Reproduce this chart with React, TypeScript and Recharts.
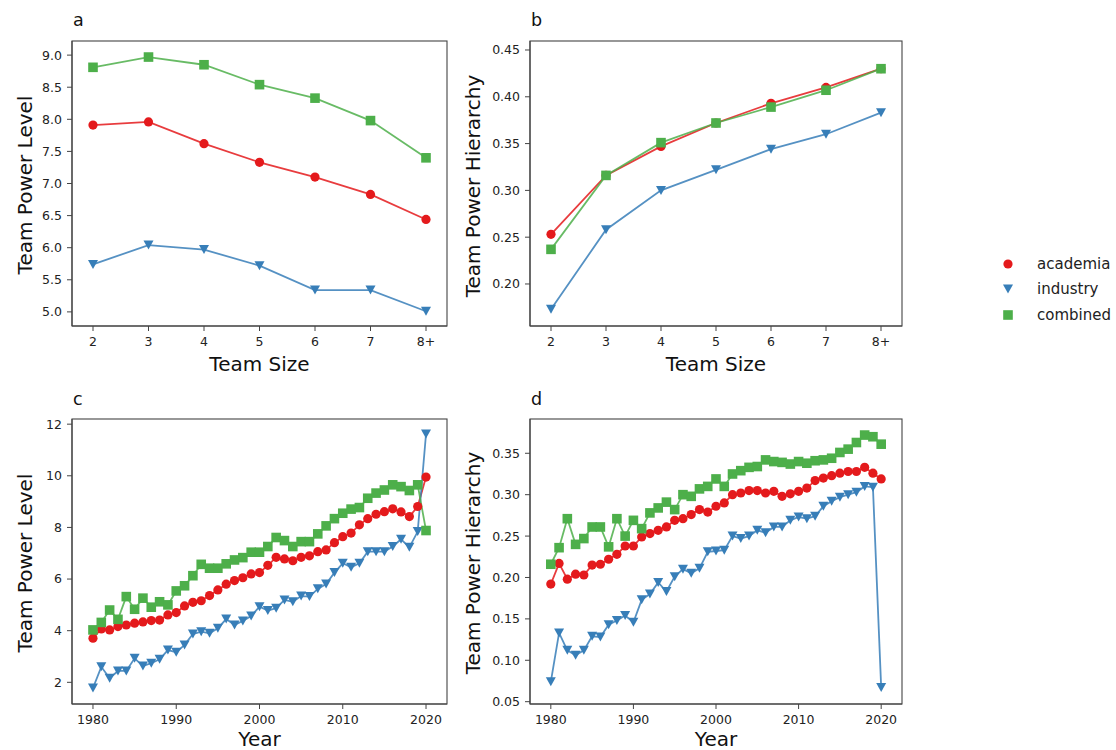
import { LineChart, Line, XAxis, YAxis } from 'recharts'

const RED = '#e41a1c'
const BLUE = '#377eb8'
const GREEN = '#4daf4a'
const FONT = '"DejaVu Sans", Verdana, sans-serif'
const SPINE = '#444'

// team size panels (a, b)
const sizeLabels = ['2', '3', '4', '5', '6', '7', '8+']
const levelAcademia = [7.91, 7.96, 7.62, 7.33, 7.1, 6.83, 6.44]
const levelIndustry = [5.74, 6.04, 5.97, 5.72, 5.34, 5.34, 5.01]
const levelCombined = [8.81, 8.97, 8.85, 8.54, 8.33, 7.98, 7.4]
const hierAcademia = [0.253, 0.316, 0.347, 0.372, 0.393, 0.41, 0.43]
const hierIndustry = [0.173, 0.258, 0.3, 0.322, 0.344, 0.36, 0.383]
const hierCombined = [0.237, 0.316, 0.351, 0.372, 0.389, 0.407, 0.43]

// year panels (c, d)
const years = [
  1980, 1981, 1982, 1983, 1984, 1985, 1986, 1987, 1988, 1989,
  1990, 1991, 1992, 1993, 1994, 1995, 1996, 1997, 1998, 1999,
  2000, 2001, 2002, 2003, 2004, 2005, 2006, 2007, 2008, 2009,
  2010, 2011, 2012, 2013, 2014, 2015, 2016, 2017, 2018, 2019, 2020,
]
const yearLevelAcademia = [
  3.71, 4.07, 4.03, 4.16, 4.22, 4.29, 4.34, 4.39, 4.41, 4.61,
  4.7, 4.96, 5.1, 5.16, 5.36, 5.58, 5.8, 5.94, 6.05, 6.2,
  6.25, 6.53, 6.84, 6.78, 6.71, 6.84, 6.9, 7.06, 7.13, 7.41,
  7.64, 7.78, 8.1, 8.34, 8.51, 8.61, 8.72, 8.6, 8.42, 8.81, 9.95,
]
const yearLevelIndustry = [
  1.78, 2.6, 2.16, 2.44, 2.44, 2.93, 2.63, 2.74, 2.89, 3.25,
  3.16, 3.45, 3.87, 3.96, 3.9, 4.09, 4.45, 4.22, 4.38, 4.57,
  4.93, 4.78, 4.87, 5.19, 5.12, 5.34, 5.32, 5.62, 5.81, 6.25,
  6.61, 6.46, 6.61, 7.06, 7.06, 7.06, 7.26, 7.54, 7.23, 7.84, 11.62,
]
const yearLevelCombined = [
  4.03, 4.32, 4.8, 4.44, 5.32, 4.83, 5.26, 4.91, 5.12, 5.0,
  5.54, 5.74, 6.13, 6.57, 6.42, 6.42, 6.59, 6.74, 6.83, 7.04,
  7.04, 7.26, 7.61, 7.49, 7.26, 7.45, 7.45, 7.75, 8.06, 8.34,
  8.55, 8.71, 8.77, 9.13, 9.33, 9.45, 9.65, 9.58, 9.43, 9.65, 7.88,
]
const yearHierAcademia = [
  0.192, 0.217, 0.198, 0.204, 0.203, 0.215, 0.216, 0.222, 0.228, 0.238,
  0.238, 0.249, 0.253, 0.257, 0.261, 0.269, 0.271, 0.276, 0.282, 0.279,
  0.286, 0.29, 0.3, 0.302, 0.305, 0.305, 0.302, 0.304, 0.298, 0.301,
  0.304, 0.308, 0.317, 0.32, 0.323, 0.326, 0.328, 0.328, 0.333, 0.326, 0.319,
]
const yearHierIndustry = [
  0.074, 0.133, 0.112, 0.106, 0.112, 0.129, 0.128, 0.143, 0.148, 0.154,
  0.146, 0.173, 0.18, 0.194, 0.183, 0.201, 0.21, 0.205, 0.211, 0.231,
  0.232, 0.233, 0.25, 0.247, 0.25, 0.257, 0.254, 0.261, 0.261, 0.269,
  0.273, 0.271, 0.274, 0.286, 0.292, 0.297, 0.3, 0.303, 0.31, 0.309, 0.067,
]
const yearHierCombined = [
  0.216, 0.236, 0.271, 0.24, 0.247, 0.261, 0.261, 0.237, 0.271, 0.25,
  0.269, 0.259, 0.278, 0.284, 0.291, 0.282, 0.3, 0.298, 0.307, 0.31,
  0.319, 0.31, 0.325, 0.329, 0.333, 0.334, 0.342, 0.34, 0.339, 0.337,
  0.34, 0.338, 0.341, 0.342, 0.344, 0.351, 0.355, 0.363, 0.372, 0.37, 0.361,
]

const levelTicks = [5.0, 5.5, 6.0, 6.5, 7.0, 7.5, 8.0, 8.5, 9.0]
const hierTicks = [0.2, 0.25, 0.3, 0.35, 0.4, 0.45]
const yearLevelTicks = [2, 4, 6, 8, 10, 12]
const yearHierTicks = [0.05, 0.1, 0.15, 0.2, 0.25, 0.3, 0.35]
const yearTicks = [1980, 1990, 2000, 2010, 2020]

const sizeLevelData = sizeLabels.map((s, i) => ({ x: s, academia: levelAcademia[i], industry: levelIndustry[i], combined: levelCombined[i] }))
const sizeHierData = sizeLabels.map((s, i) => ({ x: s, academia: hierAcademia[i], industry: hierIndustry[i], combined: hierCombined[i] }))
const yearLevelData = years.map((y, i) => ({ x: y, academia: yearLevelAcademia[i], industry: yearLevelIndustry[i], combined: yearLevelCombined[i] }))
const yearHierData = years.map((y, i) => ({ x: y, academia: yearHierAcademia[i], industry: yearHierIndustry[i], combined: yearHierCombined[i] }))

const circle = (color: string) => (p: any) =>
  p.cx == null ? null : <circle key={`c${p.index}`} cx={p.cx} cy={p.cy} r={4.6} fill={color} />
const square = (color: string) => (p: any) =>
  p.cx == null ? null : <rect key={`s${p.index}`} x={p.cx - 4.8} y={p.cy - 4.8} width={9.6} height={9.6} fill={color} />
const triangle = (color: string) => (p: any) =>
  p.cx == null ? null : (
    <path key={`t${p.index}`} d={`M${p.cx - 5},${p.cy - 4.5}L${p.cx + 5},${p.cy - 4.5}L${p.cx},${p.cy + 4.5}Z`} fill={color} />
  )

const tickStyle = { fill: '#222', fontSize: 12.5, fontFamily: FONT }

function Series() {
  return [
    <Line key="a" dataKey="academia" stroke={RED} strokeWidth={1.8} strokeOpacity={0.85} dot={circle(RED)} activeDot={false} isAnimationActive={false} />,
    <Line key="i" dataKey="industry" stroke={BLUE} strokeWidth={1.8} strokeOpacity={0.85} dot={triangle(BLUE)} activeDot={false} isAnimationActive={false} />,
    <Line key="c" dataKey="combined" stroke={GREEN} strokeWidth={1.8} strokeOpacity={0.85} dot={square(GREEN)} activeDot={false} isAnimationActive={false} />,
  ]
}

type PanelProps = {
  data: any[]
  left: number
  top: number
  height: number
  yWidth: number
  right: number
  mTop: number
  xHeight: number
  yDomain: [number, number]
  yTicks: number[]
  yFmt: (v: number) => string
  numericX?: boolean
}

function Panel(p: PanelProps) {
  return (
    <div style={{ position: 'absolute', left: p.left, top: p.top }}>
      <LineChart width={460} height={p.height} data={p.data} margin={{ top: p.mTop, right: p.right, bottom: 0, left: 0 }}>
        {p.numericX ? (
          <XAxis dataKey="x" type="number" domain={[1977.48, 2022.52]} ticks={yearTicks} allowDataOverflow
            height={p.xHeight} tick={tickStyle} tickSize={5} tickMargin={6}
            axisLine={{ stroke: SPINE, strokeWidth: 1.1 }} tickLine={{ stroke: SPINE }} />
        ) : (
          <XAxis dataKey="x" type="category" padding={{ left: 21, right: 21 }}
            height={p.xHeight} tick={tickStyle} tickSize={5} tickMargin={6} interval={0}
            axisLine={{ stroke: SPINE, strokeWidth: 1.1 }} tickLine={{ stroke: SPINE }} />
        )}
        <YAxis type="number" domain={p.yDomain} ticks={p.yTicks} allowDataOverflow width={p.yWidth}
          tickFormatter={p.yFmt} tick={tickStyle} tickSize={5} tickMargin={5} interval={0}
          axisLine={{ stroke: SPINE, strokeWidth: 1.1 }} tickLine={{ stroke: SPINE }} />
        {Series()}
      </LineChart>
    </div>
  )
}

const fmt1 = (v: number) => v.toFixed(1)
const fmt2 = (v: number) => v.toFixed(2)
const fmt0 = (v: number) => String(v)

export default function App() {
  return (
    <div style={{ position: 'absolute', left: 0, top: 0, width: 1116, height: 750, background: '#fff', overflow: 'hidden' }}>
      <Panel data={sizeLevelData} left={0} top={0} height={380} yWidth={72} right={13} mTop={41} xHeight={54}
        yDomain={[4.78, 9.22]} yTicks={levelTicks} yFmt={fmt1} />
      <Panel data={sizeHierData} left={460} top={0} height={380} yWidth={70} right={18} mTop={41} xHeight={54}
        yDomain={[0.1551, 0.4596]} yTicks={hierTicks} yFmt={fmt2} />
      <Panel data={yearLevelData} left={0} top={380} height={370} yWidth={72} right={13} mTop={39} xHeight={46}
        yDomain={[1.16, 12.2]} yTicks={yearLevelTicks} yFmt={fmt0} numericX />
      <Panel data={yearHierData} left={460} top={380} height={370} yWidth={70} right={18} mTop={39} xHeight={46}
        yDomain={[0.0472, 0.3914]} yTicks={yearHierTicks} yFmt={fmt2} numericX />

      <svg width={1116} height={750} style={{ position: 'absolute', left: 0, top: 0, pointerEvents: 'none' }} fontFamily={FONT}>
        {/* frames */}
        <g fill="none" stroke={SPINE} strokeWidth={1.1}>
          <rect x={72} y={41} width={375} height={285} />
          <rect x={530} y={41} width={372} height={285} />
          <rect x={72} y={419} width={375} height={285} />
          <rect x={530} y={419} width={372} height={285} />
        </g>
        {/* panel letters */}
        <g fontSize={17.5} fill="#111">
          <text x={73} y={26}>a</text>
          <text x={531} y={26}>b</text>
          <text x={73} y={405}>c</text>
          <text x={531} y={405}>d</text>
        </g>
        {/* axis titles */}
        <g fontSize={20} fill="#111" textAnchor="middle">
          <text x={259.5} y={371}>Team Size</text>
          <text x={716} y={371}>Team Size</text>
          <text x={259.5} y={746}>Year</text>
          <text x={716} y={746}>Year</text>
          <text transform="translate(32,185) rotate(-90)">Team Power Level</text>
          <text transform="translate(480,186) rotate(-90)">Team Power Hierarchy</text>
          <text transform="translate(32,563) rotate(-90)">Team Power Level</text>
          <text transform="translate(480,563) rotate(-90)">Team Power Hierarchy</text>
        </g>
        {/* legend */}
        <g fontSize={15} fill="#222">
          <circle cx={1008} cy={264} r={4.6} fill={RED} />
          <text x={1037} y={269}>academia</text>
          <path d="M1003,284.5L1013,284.5L1008,293.5Z" fill={BLUE} />
          <text x={1037} y={294}>industry</text>
          <rect x={1003.2} y={310.2} width={9.6} height={9.6} fill={GREEN} />
          <text x={1037} y={320}>combined</text>
        </g>
      </svg>
    </div>
  )
}
